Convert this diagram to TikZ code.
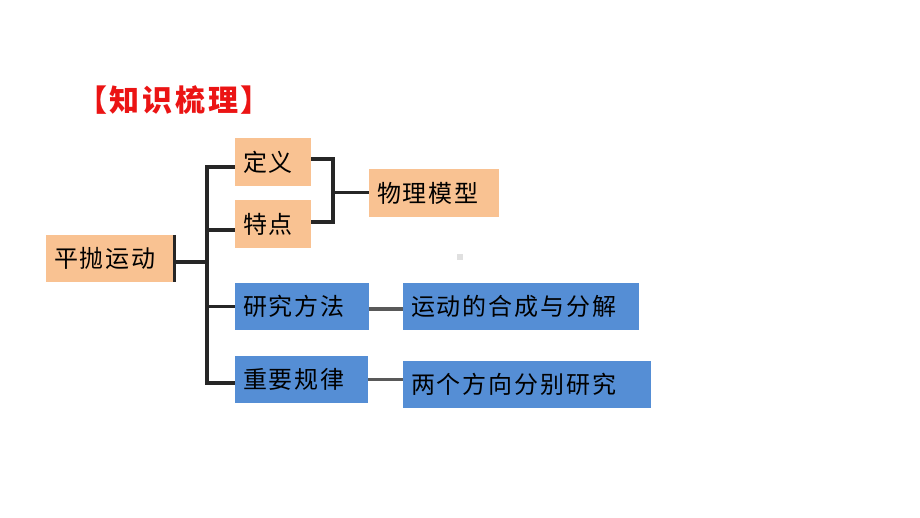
\documentclass[tikz,border=0pt]{standalone}
\usepackage{fontspec}
\setmainfont{Noto Sans CJK SC}
\newfontfamily\boxfont[LetterSpace=8]{Noto Sans CJK SC}
\newfontfamily\titlefont[LetterSpace=9]{Noto Sans CJK SC}
\usepackage{tikz}
\usetikzlibrary{positioning}
\definecolor{peach}{RGB}{249,194,146}
\definecolor{skyblue}{RGB}{85,142,213}
\definecolor{titlered}{RGB}{235,20,20}

\begin{document}
\begin{tikzpicture}[x=1pt, y=-1pt,
  topic/.style={rectangle, fill=peach, inner xsep=8pt, inner ysep=0pt, minimum height=47pt, align=left, font=\boxfont\fontsize{24}{28}\selectfont},
  method/.style={topic, fill=skyblue},
  bracket/.style={draw=black!85, line width=3.4pt},
  link/.style={draw=black!65, line width=3.4pt}]

  \useasboundingbox (0,0) rectangle (920,518);

  \node [text=titlered, font=\titlefont\bfseries\fontsize{30}{34}\selectfont] (title) at (174,100) {【知识梳理】};

  \node [topic, text width=112pt] (root) at (110,258.5) {平抛运动};
  \node [topic, text width=60pt, minimum height=48pt] (def) at (273,162) {定义};
  \node [topic, text width=60pt, minimum height=48pt] (feat) at (273,224) {特点};
  \node [topic, text width=114pt, minimum height=48pt] (model) at (434,193) {物理模型};
  \node [method, text width=118pt] (study) at (302,306.5) {研究方法};
  \node [method, text width=220pt] (decomp) at (521,306.5) {运动的合成与分解};
  \node [method, text width=117pt] (law) at (301.5,379.5) {重要规律};
  \node [method, text width=232pt] (twodir) at (527,384.5) {两个方向分别研究};

  \coordinate (trunk) at (207,0);
  \coordinate (brk) at (333,0);

  \draw [bracket] (root.north east) -- (root.south east);
  \draw [bracket] ([yshift=-5pt]def.west) -| ([yshift=-3.5pt]law.west -| trunk) -- ([yshift=-3.5pt]law.west);
  \draw [bracket] ([yshift=-3.5pt]root.east) -- ([yshift=-3.5pt]root.east -| trunk);
  \draw [bracket] ([yshift=-6pt]feat.west) -- ([yshift=-6pt]feat.west -| trunk);
  \draw [bracket] (study.west) -- (study.west -| trunk);

  \draw [bracket] ([yshift=3pt]def.east) -| ([yshift=2pt]feat.east -| brk) -- ([yshift=2pt]feat.east);
  \draw [bracket, line width=3pt] (model.west) -- (model.west -| brk);

  \draw [link] ([yshift=-2.5pt]study.east) -- ([yshift=-2.5pt]study.east -| decomp.west);
  \draw [link] (law.east) -- (law.east -| twodir.west);

  \fill [black!12] (457,254) rectangle (463,260);
\end{tikzpicture}
\end{document}
